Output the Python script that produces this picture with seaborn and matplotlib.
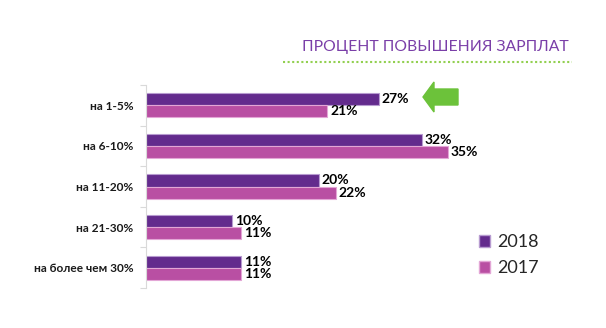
import matplotlib
matplotlib.use("Agg")
import matplotlib.pyplot as plt
import seaborn as sns
import pandas as pd
from matplotlib.patches import FancyArrow, Rectangle
from matplotlib.lines import Line2D

categories = ["на 1-5%", "на 6-10%", "на 11-20%", "на 21-30%", "на более чем 30%"]
years = ["2018", "2017"]
values_2018 = [27, 32, 20, 10, 11]
values_2017 = [21, 35, 22, 11, 11]
title = "ПРОЦЕНТ ПОВЫШЕНИЯ ЗАРПЛАТ"

sns.set_theme(style="white")
plt.rcParams["font.family"] = ["Lato", "DejaVu Sans"]

df = pd.DataFrame({
    "cat": categories * 2,
    "year": [years[0]] * 5 + [years[1]] * 5,
    "val": values_2018 + values_2017,
})

colors = {"2018": "#632B8D", "2017": "#B94FA3"}
edge = {"2018": "#B79BD0", "2017": "#E3A6D6"}

fig = plt.figure(figsize=(6.06, 3.28), dpi=100)
W, H = 606, 328
ax = fig.add_axes([146 / W, 1 - 288 / H, 431.5 / W, 203 / H])

sns.barplot(data=df, y="cat", x="val", hue="year", hue_order=years,
            palette=colors, orient="h", width=0.6, ax=ax, legend=False,
            saturation=1, linewidth=0)

for cont, yr in zip(ax.containers, years):
    for p in cont:
        p.set_edgecolor(edge[yr])
        p.set_linewidth(0.8)
    ax.bar_label(cont, labels=[f"{int(v)}%" for v in cont.datavalues],
                 padding=2, fontsize=10, fontweight="bold", color="black")

ax.set_xlim(0, 50)
ax.set_ylim(4.5, -0.5)
ax.set_xlabel("")
ax.set_ylabel("")
ax.set_xticks([])
for s in ["top", "right", "bottom"]:
    ax.spines[s].set_visible(False)
ax.spines["left"].set_color("#D9D9D9")
ax.spines["left"].set_linewidth(0.8)
ax.tick_params(axis="y", which="major", length=0, pad=9, labelsize=8.6)
for lbl in ax.get_yticklabels():
    lbl.set_fontweight("bold")
    lbl.set_color("#1a1a1a")
ax.set_yticks([i + 0.5 for i in range(-1, 5)], minor=True)
ax.tick_params(axis="y", which="minor", length=4, color="#D9D9D9", width=0.8, left=True)

# Title and dotted underline
fig.text(435 / W, 1 - 47 / H, title, ha="center", va="center",
         fontsize=11.3, color="#7A3FA8")
fig.add_artist(Line2D([283 / W, 572 / W], [1 - 62 / H, 1 - 62 / H],
                      color="#92D050", linestyle=(0, (1, 1.2)), linewidth=1.5))

# Green arrow
fig.add_artist(FancyArrow(458 / W, 1 - 97 / H, -24 / W, 0, width=16 / H,
                          head_width=30 / H, head_length=11 / W,
                          length_includes_head=False, color="#6CC23A",
                          transform=fig.transFigure))

# Legend
handles = [Rectangle((0, 0), 1, 1, facecolor=colors[y], edgecolor=edge[y]) for y in years]
fig.legend(handles, years, loc="upper left", bbox_to_anchor=(463 / W, 1 - 218 / H),
           frameon=False, fontsize=13, handlelength=0.62, handleheight=0.62,
           handletextpad=0.4, labelspacing=0.55)

fig.savefig("out.png", dpi=100)
